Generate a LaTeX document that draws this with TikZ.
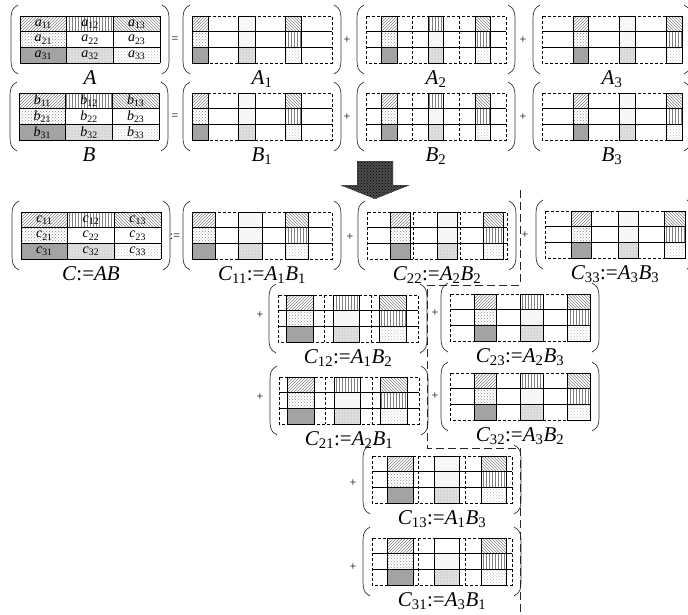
\documentclass[tikz,border=0pt]{standalone}
\usepackage{fontspec}
\setmainfont{Liberation Serif}
\usetikzlibrary{patterns}

\newcommand{\msub}[2]{\textit{#1}\textsubscript{#2}}

\tikzset{
  pa/.style={pattern=north east lines, pattern color=gray},
  pb/.style={pattern=vertical lines, pattern color=gray},
  pc/.style={pattern=north west lines, pattern color=gray},
  pd/.style={pattern=crosshatch dots, pattern color=gray!90},
  pe/.style={fill=white},
  pf/.style={fill=gray!6},
  pg/.style={fill=gray!72},
  ph/.style={preaction={fill=gray!25}, pattern=dots, pattern color=gray!75},
  pi/.style={pattern=crosshatch dots, pattern color=gray!50},
  cellline/.style={line width=1pt},
  dashline/.style={line width=1pt, dash pattern=on 3pt off 2pt},
  bracket/.style={line width=0.7pt, black!80},
  matlabel/.style={anchor=base, font=\fontsize{21}{21}\selectfont},
  entry/.style={font=\fontsize{14}{14}\selectfont},
  opsign/.style={font=\fontsize{12}{12}\selectfont},
  border/.style={line width=0.8pt, black!85, dash pattern=on 8pt off 4pt},
  bigarrow/.style={fill=black!70, postaction={pattern=crosshatch dots, pattern color=black}}
}

% round brackets around a grid with top left corner (#1,#2)
\newcommand{\brackets}[2]{%
  \draw[bracket] (#1-2,#2-11) .. controls (#1-8,#2-8) and (#1-9,#2-4) .. (#1-9,#2+3)
    -- (#1-9,#2+44) .. controls (#1-9,#2+51) and (#1-8,#2+55) .. (#1-2,#2+58);
  \draw[bracket] (#1+142,#2-11) .. controls (#1+148,#2-8) and (#1+149,#2-4) .. (#1+149,#2+3)
    -- (#1+149,#2+44) .. controls (#1+149,#2+51) and (#1+148,#2+55) .. (#1+142,#2+58);
}

% full matrix: #1 name, #2,#3 top left corner, #4 entry letter, #5 label
\newcommand{\fullmat}[5]{%
  \foreach \r/\c/\s in {0/0/pa,0/1/pb,0/2/pc,1/0/pd,1/1/pe,1/2/pe,2/0/pg,2/1/ph,2/2/pi}
    \path[\s] (#2+\c*46.67,#3+\r*15.67) rectangle ++(46.67,15.67);
  \foreach \k in {0,1,2,3} {
    \draw[cellline] (#2+\k*46.67,#3) -- (#2+\k*46.67,#3+47);
    \draw[cellline] (#2,#3+\k*15.67) -- (#2+140,#3+\k*15.67);
  }
  \foreach \r/\i in {0/1,1/2,2/3}
    \foreach \c/\j in {0/1,1/2,2/3}
      \node[entry] (#1-\i\j) at (#2+\c*46.67+23.33,#3+\r*15.67+8) {\msub{#4}{\i\j}};
  \brackets{#2}{#3}
  \node[matlabel] (lab#1) at (#2+70,#3+68) {#5};
}

% part matrix: #1 name, #2,#3 top left corner, #4,#5 filled part of a block,
% #6 top cell of block 2, #7 dashed block borders (1/0), #8 label
\newcommand{\partmat}[8]{%
  \foreach \b/\ta/\tb/\tc in {0/pa/pd/pg,1/#6/pf/ph,2/pc/pb/pi}
    \foreach \r/\s in {0/\ta,1/\tb,2/\tc}
      \path[\s] (#2+\b*46.67+#4*46.67,#3+\r*15.67) rectangle (#2+\b*46.67+#5*46.67,#3+\r*15.67+15.67);
  \draw[cellline] (#2,#3+15.67) -- (#2+140,#3+15.67);
  \draw[cellline] (#2,#3+31.33) -- (#2+140,#3+31.33);
  \draw[dashline] (#2,#3) rectangle (#2+140,#3+47);
  \ifnum#7=1
    \draw[dashline] (#2+46.67,#3) -- (#2+46.67,#3+47);
    \draw[dashline] (#2+93.33,#3) -- (#2+93.33,#3+47);
  \fi
  \foreach \b in {0,1,2}
    \draw[cellline] (#2+\b*46.67+#4*46.67,#3) rectangle (#2+\b*46.67+#5*46.67,#3+47);
  \brackets{#2}{#3}
  \node[matlabel] (lab#1) at (#2+70,#3+68) {#8};
}

\begin{document}
\begin{tikzpicture}[x=1pt,y=-1pt]
\useasboundingbox (0,0) rectangle (688,614);

% A = A1 + A2 + A3
\fullmat{A}{20}{16}{a}{\textit{A}}
\node[opsign] (eqA) at (175,40) {=};
\partmat{A1}{192}{16}{0}{0.35}{pf}{0}{\msub{A}{1}}
\node[opsign] (plusA2) at (347,40) {+};
\partmat{A2}{366}{16}{0.34}{0.67}{pb}{1}{\msub{A}{2}}
\node[opsign] (plusA3) at (523,40) {+};
\partmat{A3}{542}{16}{0.67}{1}{pf}{0}{\msub{A}{3}}

% B = B1 + B2 + B3
\fullmat{B}{19}{93}{b}{\textit{B}}
\node[opsign] (eqB) at (175,117) {=};
\partmat{B1}{192}{93}{0}{0.35}{pf}{0}{\msub{B}{1}}
\node[opsign] (plusB2) at (347,117) {+};
\partmat{B2}{366}{93}{0.34}{0.67}{pb}{1}{\msub{B}{2}}
\node[opsign] (plusB3) at (523,117) {+};
\partmat{B3}{542}{93}{0.67}{1}{pf}{0}{\msub{B}{3}}

% arrow
\fill[bigarrow] (357,161) -- (393,161) -- (393,185) -- (410,185) -- (375,199)
  -- (340,185) -- (357,185) -- cycle;

% C = sum of the nine products
\fullmat{C}{21}{212}{c}{\textit{C}:=\textit{AB}}
\node[opsign] (eqC) at (175,237) {:=};
\partmat{C11}{192}{212}{0}{0.5}{pf}{0}{\msub{C}{11}:=\msub{A}{1}\msub{B}{1}}
\node[opsign] (plusC22) at (350,237) {+};
\partmat{C22}{367}{212}{0.5}{0.93}{pf}{1}{\msub{C}{22}:=\msub{A}{2}\msub{B}{2}}
\node[opsign] (plusC33) at (525,235) {+};
\partmat{C33}{545}{211}{0.57}{1}{pf}{0}{\msub{C}{33}:=\msub{A}{3}\msub{B}{3}}

\node[opsign] (plusC12) at (260,315) {+};
\partmat{C12}{278}{295}{0.18}{0.75}{pb}{1}{\msub{C}{12}:=\msub{A}{1}\msub{B}{2}}
\node[opsign] (plusC21) at (260,397) {+};
\partmat{C21}{279}{377}{0.18}{0.75}{pb}{1}{\msub{C}{21}:=\msub{A}{2}\msub{B}{1}}
\node[opsign] (plusC23) at (435,313) {+};
\partmat{C23}{450}{294}{0.52}{1}{pb}{1}{\msub{C}{23}:=\msub{A}{2}\msub{B}{3}}
\node[opsign] (plusC32) at (435,396) {+};
\partmat{C32}{450}{373}{0.52}{1}{pb}{1}{\msub{C}{32}:=\msub{A}{3}\msub{B}{2}}
\node[opsign] (plusC13) at (353,483) {+};
\partmat{C13}{372}{456}{0.34}{0.88}{pf}{1}{\msub{C}{13}:=\msub{A}{1}\msub{B}{3}}
\node[opsign] (plusC31) at (353,567) {+};
\partmat{C31}{372}{538}{0.34}{0.88}{pe}{1}{\msub{C}{31}:=\msub{A}{3}\msub{B}{1}}

% dashed border
\draw[border] (520,190) -- (520,285) -- (427,285) -- (427,448) -- (520,448) -- (520,614);
\end{tikzpicture}
\end{document}
